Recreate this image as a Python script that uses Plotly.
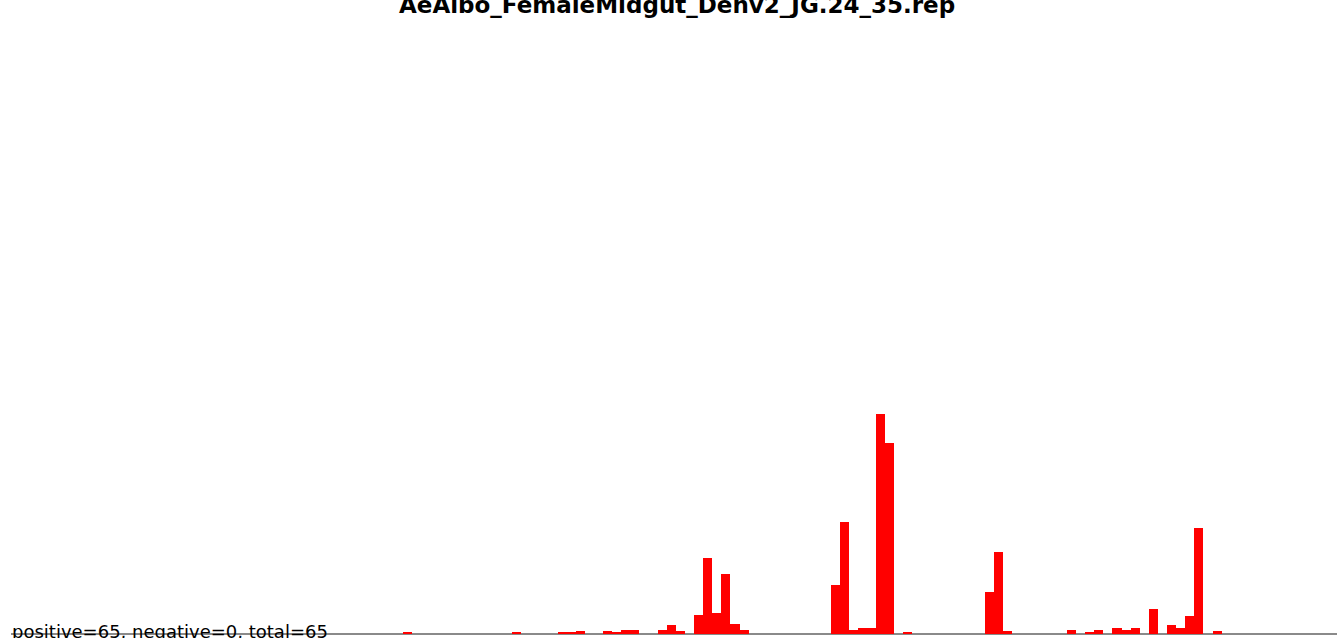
import plotly.graph_objects as go

# bin index along the read and height of each bar (from the picture)
bins = [0, 12, 17, 18, 19, 22, 23, 24, 25, 28, 29, 30,
        32, 33, 34, 35, 36, 37,
        47, 48, 49, 50, 51, 52, 53, 55,
        64, 65, 66, 73, 75, 76, 78, 79, 80,
        82, 84, 85, 86, 87, 89]
heights = [2, 2, 2, 2, 3, 3, 2, 4, 4, 4, 9, 3,
           19, 76, 21, 60, 10, 4,
           49, 112, 4, 6, 6, 220, 191, 2,
           42, 82, 3, 4, 2, 4, 6, 4, 6,
           25, 9, 6, 18, 106, 3]

title = "AeAlbo_FemaleMidgut_Denv2_JG.24_35.rep"
summary = "positive=65, negative=0, total=65"

fig = go.Figure()
fig.add_trace(go.Bar(x=bins, y=heights, width=1,
                     marker=dict(color="#ff0000", line=dict(width=0)),
                     showlegend=False, hoverinfo="x+y"))

# baseline
fig.add_shape(type="line", xref="paper", yref="y", x0=11 / 1337, x1=1,
              y0=0, y1=0, line=dict(color="#8a8a8a", width=2), layer="below")

fig.add_annotation(text="<b>" + title + "</b>", xref="paper", yref="paper",
                   x=0.506, y=1, xanchor="center", yanchor="top", yshift=10,
                   showarrow=False,
                   font=dict(family="DejaVu Sans", size=23, color="black"))
fig.add_annotation(text=summary, xref="paper", yref="paper",
                   x=10 / 1337, y=0, xanchor="left", yanchor="bottom", yshift=-6,
                   showarrow=False,
                   font=dict(family="DejaVu Sans", size=18, color="black"))

fig.update_layout(width=1337, height=638,
                  margin=dict(l=0, r=0, t=0, b=0),
                  paper_bgcolor="white", plot_bgcolor="white",
                  bargap=0,
                  xaxis=dict(range=[-44.805, 102.183], visible=False),
                  yaxis=dict(range=[-4, 634], visible=False))

# drop the page's default body margin so the figure sits at the window corner
fig.write_html("out.html", config={"displayModeBar": False},
               post_script="document.body.style.margin='0';")
